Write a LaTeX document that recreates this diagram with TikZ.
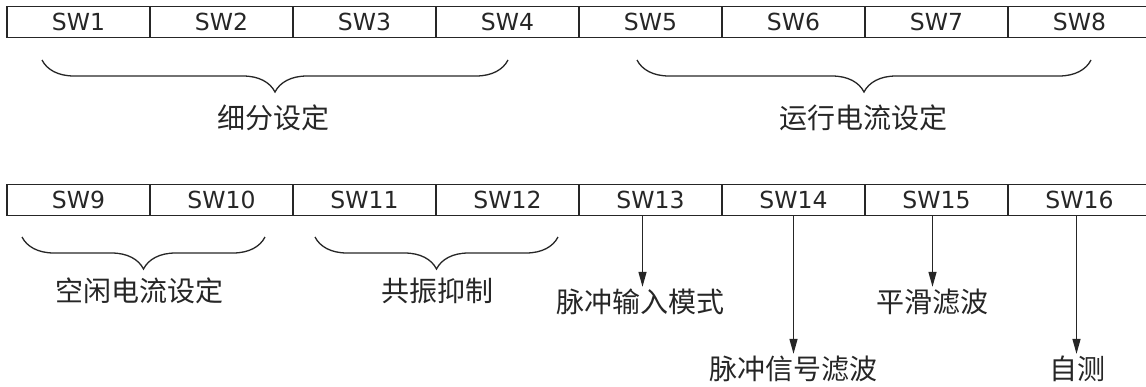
\documentclass[tikz,border=0pt]{standalone}
\usepackage{fontspec}
\setmainfont{DejaVu Sans}
\newfontfamily\cjk{Noto Sans CJK SC}
\usetikzlibrary{decorations.pathreplacing,arrows.meta}

\begin{document}
\begin{tikzpicture}[x=1pt,y=-1pt,cell/.style={draw=black!85,line width=1.4pt,minimum width=143pt,minimum height=31pt,inner sep=0pt,font=\fontsize{23.5}{23.5}\selectfont,text=black!85},lbl/.style={inner sep=2pt,font=\cjk\fontsize{28}{28}\selectfont,text=black!85},brc/.style={draw=black!85,line width=1.3pt,decorate,decoration={brace,mirror,amplitude=32pt}},arr/.style={draw=black!85,line width=1.3pt,-{Triangle[length=15pt,width=8pt]}}]
\useasboundingbox (0,0) rectangle (1146,386);
\foreach \i in {1,...,8}
  \node[cell] (sw\i) at ({7+143*(\i-0.5)},22) {SW\i};
\foreach \i in {9,...,16}
  \node[cell] (sw\i) at ({7+143*(\i-8.5)},200) {SW\i};
% braces
\coordinate (b1l) at (42,60); \coordinate (b1r) at (508,60);
\coordinate (b2l) at (637,60); \coordinate (b2r) at (1091,60);
\coordinate (b3l) at (22,237); \coordinate (b3r) at (265,237);
\coordinate (b4l) at (315,237); \coordinate (b4r) at (558,237);
\draw[brc] (b1l) -- (b1r);
\draw[brc] (b2l) -- (b2r);
\draw[brc] (b3l) -- (b3r);
\draw[brc] (b4l) -- (b4r);
\node[lbl] (xifen) at (273,118) {细分设定};
\node[lbl] (yunxing) at (863,118) {运行电流设定};
\node[lbl] (kongxian) at (139,291) {空闲电流设定};
\node[lbl] (gongzhen) at (437,291) {共振抑制};
% arrows
\node[lbl] (m13) at (640,302) {脉冲输入模式};
\node[lbl] (m14) at (793,369) {脉冲信号滤波};
\node[lbl] (m15) at (932,302) {平滑滤波};
\node[lbl] (m16) at (1077,369) {自测};
\draw[arr] ([xshift=-8pt]sw13.south) -- ([xshift=-8pt]sw13.south |- m13.north);
\draw[arr] (sw14.south) -- (sw14.south |- m14.north);
\draw[arr] ([xshift=-4pt]sw15.south) -- ([xshift=-4pt]sw15.south |- m15.north);
\draw[arr] ([xshift=-3pt]sw16.south) -- ([xshift=-3pt]sw16.south |- m16.north);
\end{tikzpicture}
\end{document}
